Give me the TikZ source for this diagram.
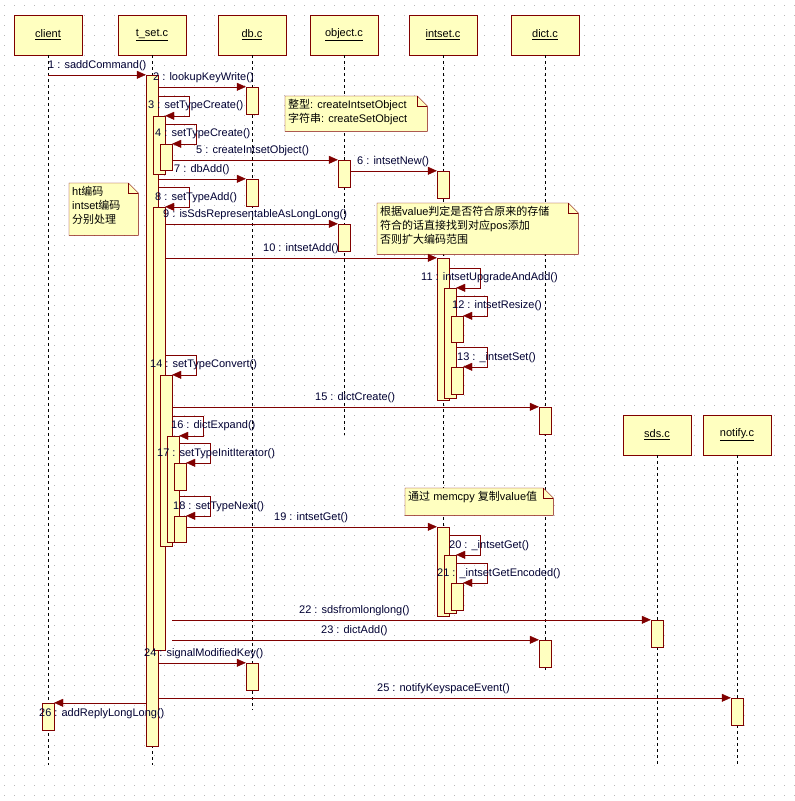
\documentclass[tikz,border=0pt]{standalone}
\usepackage{fontspec}
\setmainfont{Liberation Sans}
\newfontfamily\cjk{Noto Sans CJK SC}
\usetikzlibrary{arrows.meta}

\definecolor{umlred}{HTML}{800000}
\definecolor{umlfill}{HTML}{FFFFC0}

\tikzset{
  head/.style={draw=umlred, fill=umlfill, minimum width=68, minimum height=40, inner sep=0pt},
  bar/.style={draw=umlred, fill=umlfill, minimum width=12, inner sep=0pt},
  life/.style={dashed, black},
  msg/.style={umlred, -{Triangle[length=9,width=8]}},
  lbl/.style={anchor=west, inner sep=0pt, text=black!80!blue},
  note/.style={anchor=north west, align=left, inner sep=4pt, text=black},
  notebox/.style={draw=umlred, fill=umlfill}
}
\newcommand{\notefold}[1]{%
  \draw[notebox] (#1.north west) -- ([xshift=-10]#1.north east) -- ([yshift=-10]#1.north east)
    -- (#1.south east) -- (#1.south west) -- cycle;
  \draw[umlred] ([xshift=-10]#1.north east) -- ([xshift=-10,yshift=-10]#1.north east) -- ([yshift=-10]#1.north east);}

\begin{document}
\begin{tikzpicture}[x=1pt, y=-1pt, font=\fontsize{11}{14}\selectfont]
  \useasboundingbox[fill=white] (0,0) rectangle (795,801);
  % dotted grid
  \foreach \gy in {5,15,...,795}
    \draw[gray!55, dash pattern=on 1pt off 9pt] (4,\gy) -- (795,\gy);

  % heads
  \node[head] (client) at (48,35) {\underline{client}};
  \node[head] (tset) at (152,35) {\underline{t\_set.c}};
  \node[head] (db) at (252,35) {\underline{db.c}};
  \node[head] (obj) at (344,35) {\underline{object.c}};
  \node[head] (ints) at (443,35) {\underline{intset.c}};
  \node[head] (dict) at (545,35) {\underline{dict.c}};
  \node[head] (sds) at (657,435) {\underline{sds.c}};
  \node[head] (ntf) at (737,435) {\underline{notify.c}};

  % lifelines
  \draw[life] (client) -- (48,765);
  \draw[life] (tset) -- (152,765);
  \draw[life] (db) -- (252,710);
  \draw[life] (obj) -- (344,435);
  \draw[life] (ints) -- (443,614);
  \draw[life] (dict) -- (545,673);
  \draw[life] (sds) -- (657,765);
  \draw[life] (ntf) -- (737,765);

  % notes
  \node[note, minimum width=142, minimum height=35] (n1) at (285,96) {};
  \node[note, minimum width=69, minimum height=52] (n2) at (69,183) {};
  \node[note, minimum width=201, minimum height=51] (n3) at (377,203) {};
  \node[note, minimum width=148, minimum height=27] (n4) at (405,488) {};
  \notefold{n1}
  \notefold{n2}
  \notefold{n3}
  \notefold{n4}
  \node[note, inner sep=3pt] at (n1.north west) {{\cjk 整型}: createIntsetObject\\{\cjk 字符串}: createSetObject};
  \node[note, inner sep=3pt] at (n2.north west) {ht{\cjk 编码}\\intset{\cjk 编码}\\{\cjk 分别处理}};
  \node[note, inner sep=3pt] at (n3.north west) {{\cjk 根据}value{\cjk 判定是否符合原来的存储}\\{\cjk 符合的话直接找到对应}pos{\cjk 添加}\\{\cjk 否则扩大编码范围}};
  \node[note, inner sep=3pt] at (n4.north west) {{\cjk 通过} memcpy {\cjk 复制}value{\cjk 值}};

  % activation bars
  \node[bar, minimum height=671] (a1) at (152,410.5) {};
  \node[bar, minimum height=58] (a2) at (159,145) {};
  \node[bar, minimum height=26] (a3) at (166,157) {};
  \node[bar, minimum height=443] (a8) at (159,428.5) {};
  \node[bar, minimum height=171] (a14) at (166,460.5) {};
  \node[bar, minimum height=106] (a16) at (173,489) {};
  \node[bar, minimum height=27] (a17) at (180,476.5) {};
  \node[bar, minimum height=26] (a18) at (180,529) {};
  \node[bar, minimum height=27] (d2) at (252,100.5) {};
  \node[bar, minimum height=27] (d7) at (252,192.5) {};
  \node[bar, minimum height=27] (d24) at (252,676.5) {};
  \node[bar, minimum height=27] (o5) at (344,173.5) {};
  \node[bar, minimum height=27] (o9) at (344,237.5) {};
  \node[bar, minimum height=27] (i6) at (443,184.5) {};
  \node[bar, minimum height=142] (i10) at (443,329) {};
  \node[bar, minimum height=110] (i11) at (450,343) {};
  \node[bar, minimum height=26] (i12) at (457,329) {};
  \node[bar, minimum height=27] (i13) at (457,380.5) {};
  \node[bar, minimum height=89] (i19) at (443,571.5) {};
  \node[bar, minimum height=58] (i20) at (450,584) {};
  \node[bar, minimum height=27] (i21) at (457,596.5) {};
  \node[bar, minimum height=27] (x15) at (545,420.5) {};
  \node[bar, minimum height=27] (x23) at (545,653.5) {};
  \node[bar, minimum height=27] (s22) at (657,633.5) {};
  \node[bar, minimum height=27] (n25) at (737,711.5) {};
  \node[bar, minimum height=27] (c26) at (48,716.5) {};

  % messages
  \draw[msg] (client |- a1.north west) -- (a1.north west);
  \draw[msg] (a1.east |- d2.north) -- (d2.north west);
  \draw[msg] (a1.east |- 0,96) -| ([xshift=24]a2.north east) -- (a2.north east);
  \draw[msg] (a2.east |- 0,124) -| ([xshift=24]a3.north east) -- (a3.north east);
  \draw[msg] (a3.east |- o5.north) -- (o5.north west);
  \draw[msg] (o5.east |- i6.north) -- (i6.north west);
  \draw[msg] (a1.east |- d7.north) -- (d7.north west);
  \draw[msg] (a1.east |- 0,187) -| ([xshift=24]a8.north east) -- (a8.north east);
  \draw[msg] (a8.east |- o9.north) -- (o9.north west);
  \draw[msg] (a8.east |- i10.north) -- (i10.north west);
  \draw[msg] (i10.east |- 0,268) -| ([xshift=24]i11.north east) -- (i11.north east);
  \draw[msg] (i11.east |- 0,296) -| ([xshift=24]i12.north east) -- (i12.north east);
  \draw[msg] (i11.east |- 0,347) -| ([xshift=24]i13.north east) -- (i13.north east);
  \draw[msg] (a8.east |- 0,355) -| ([xshift=24]a14.north east) -- (a14.north east);
  \draw[msg] (a14.east |- x15.north) -- (x15.north west);
  \draw[msg] (a14.east |- 0,416) -| ([xshift=24]a16.north east) -- (a16.north east);
  \draw[msg] (a16.east |- 0,443) -| ([xshift=24]a17.north east) -- (a17.north east);
  \draw[msg] (a16.east |- 0,496) -| ([xshift=24]a18.north east) -- (a18.north east);
  \draw[msg] (a18.east |- i19.north) -- (i19.north west);
  \draw[msg] (i19.east |- 0,535) -| ([xshift=24]i20.north east) -- (i20.north east);
  \draw[msg] (i20.east |- 0,563) -| ([xshift=24]i21.north east) -- (i21.north east);
  \draw[msg] (a14.east |- s22.north) -- (s22.north west);
  \draw[msg] (a14.east |- x23.north) -- (x23.north west);
  \draw[msg] (a1.east |- d24.north) -- (d24.north west);
  \draw[msg] (a1.east |- n25.north) -- (n25.north west);
  \draw[msg] (a1.west |- c26.north) -- (c26.north east);

  % labels
  \node[lbl] (l1) at (48,66) {1 : saddCommand()};
  \node[lbl] (l2) at (153,78) {2 : lookupKeyWrite()};
  \node[lbl] (l3) at (148,106) {3 : setTypeCreate()};
  \node[lbl] (l4) at (155,134) {4 : setTypeCreate()};
  \node[lbl] (l5) at (196,151) {5 : createIntsetObject()};
  \node[lbl] (l6) at (357,162) {6 : intsetNew()};
  \node[lbl] (l7) at (174,170) {7 : dbAdd()};
  \node[lbl] (l8) at (155,198) {8 : setTypeAdd()};
  \node[lbl] (l9) at (163,215) {9 : isSdsRepresentableAsLongLong()};
  \node[lbl] (l10) at (263,249) {10 : intsetAdd()};
  \node[lbl] (l11) at (421,278) {11 : intsetUpgradeAndAdd()};
  \node[lbl] (l12) at (452,306) {12 : intsetResize()};
  \node[lbl] (l13) at (457,358) {13 : \_intsetSet()};
  \node[lbl] (l14) at (150,365) {14 : setTypeConvert()};
  \node[lbl] (l15) at (315,398) {15 : dictCreate()};
  \node[lbl] (l16) at (171,426) {16 : dictExpand()};
  \node[lbl] (l17) at (157,454) {17 : setTypeInitIterator()};
  \node[lbl] (l18) at (173,507) {18 : setTypeNext()};
  \node[lbl] (l19) at (274,518) {19 : intsetGet()};
  \node[lbl] (l20) at (449,546) {20 : \_intsetGet()};
  \node[lbl] (l21) at (437,574) {21 : \_intsetGetEncoded()};
  \node[lbl] (l22) at (299,611) {22 : sdsfromlonglong()};
  \node[lbl] (l23) at (321,631) {23 : dictAdd()};
  \node[lbl] (l24) at (144,654) {24 : signalModifiedKey()};
  \node[lbl] (l25) at (377,689) {25 : notifyKeyspaceEvent()};
  \node[lbl] (l26) at (39,714) {26 : addReplyLongLong()};
\end{tikzpicture}
\end{document}
